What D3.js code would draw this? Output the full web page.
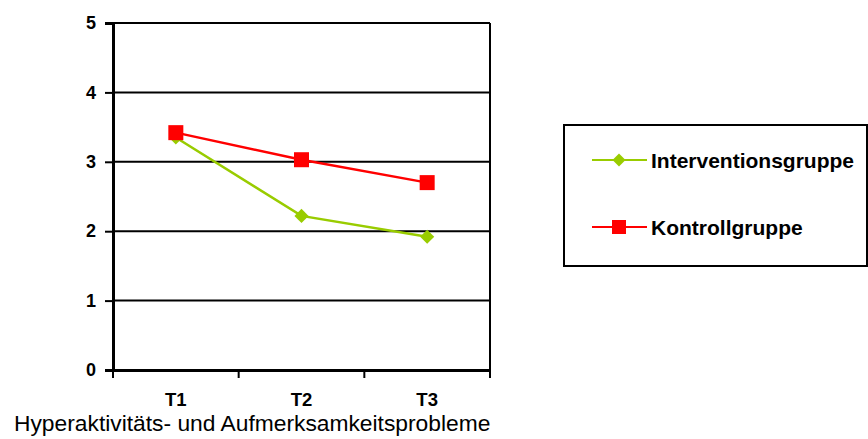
<!DOCTYPE html>
<html><head><meta charset="utf-8">
<script src="https://cdn.jsdelivr.net/npm/d3@7"></script>
<style>body{margin:0;background:#fff}svg{display:block}text{font-family:Arial,"Liberation Sans",sans-serif}</style>
</head><body>
<svg id="c" width="868" height="439"></svg>
<script>
const categories = ["T1", "T2", "T3"];
const interventionsgruppe = [3.35, 2.22, 1.92];
const kontrollgruppe = [3.42, 3.03, 2.70];
const yTicks = [0, 1, 2, 3, 4, 5];
const seriesNames = ["Interventionsgruppe", "Kontrollgruppe"];
const title = "Hyperaktivitäts- und Aufmerksamkeitsprobleme";

const svg = d3.select("#c");
const L = 113, R = 490, T = 23, B = 370;
const x = d3.scaleBand().domain(categories).range([L, R]);
const y = d3.scaleLinear().domain([0, 5]).range([B, T]);

// gridlines
svg.append("g").selectAll("line").data(yTicks.filter(d => d > 0)).join("line")
  .attr("x1", L).attr("x2", R).attr("y1", d => y(d)).attr("y2", d => y(d))
  .attr("stroke", "#000").attr("stroke-width", 2);
// right border
svg.append("line").attr("x1", R).attr("x2", R).attr("y1", T).attr("y2", B).attr("stroke", "#000").attr("stroke-width", 2);

// y axis
const ya = svg.append("g").attr("transform", `translate(${L},0)`)
  .call(d3.axisLeft(y).tickValues(yTicks).tickSize(8).tickPadding(9).tickFormat(d3.format("d")));
ya.select(".domain").attr("stroke-width", 3);
ya.selectAll(".tick line").attr("stroke-width", 2);
ya.selectAll("text").attr("font-size", 18).attr("font-weight", "bold").attr("fill", "#000")
  .attr("font-family", 'Arial,"Liberation Sans",sans-serif');

// x axis
const xa = svg.append("g").attr("transform", `translate(0,${B})`)
  .call(d3.axisBottom(x).tickSize(0).tickPadding(0).tickSizeOuter(0));
xa.select(".domain").attr("stroke-width", 3);
xa.selectAll(".tick text").attr("font-size", 18.5).attr("font-weight", "bold").attr("fill", "#000")
  .attr("dy", null).attr("y", 35.5).attr("font-family", 'Arial,"Liberation Sans",sans-serif');
// category boundary ticks
const bounds = categories.map(c => x(c)).concat([R]);
xa.append("g").selectAll("line").data(bounds).join("line")
  .attr("x1", d => d).attr("x2", d => d).attr("y1", 0).attr("y2", 8)
  .attr("stroke", "#000").attr("stroke-width", 2);

const cx = c => x(c) + x.bandwidth() / 2;
const line = d3.line().x(d => cx(d.c)).y(d => y(d.v));
const green = "#99CC00", red = "#FF0000";
const gData = categories.map((c, i) => ({c, v: interventionsgruppe[i]}));
const rData = categories.map((c, i) => ({c, v: kontrollgruppe[i]}));

svg.append("path").datum(gData).attr("d", line).attr("fill", "none").attr("stroke", green).attr("stroke-width", 2.5);
svg.append("g").selectAll("path").data(gData).join("path")
  .attr("d", d3.symbol().type(d3.symbolSquare).size(100))
  .attr("transform", d => `translate(${cx(d.c)},${y(d.v)}) rotate(45)`).attr("fill", green);

svg.append("path").datum(rData).attr("d", line).attr("fill", "none").attr("stroke", red).attr("stroke-width", 2.5);
svg.append("g").selectAll("rect").data(rData).join("rect")
  .attr("x", d => cx(d.c) - 7.5).attr("y", d => y(d.v) - 7.5).attr("width", 15).attr("height", 15).attr("fill", red);

// legend
svg.append("rect").attr("x", 564).attr("y", 125).attr("width", 303).attr("height", 141)
  .attr("fill", "none").attr("stroke", "#000").attr("stroke-width", 2);
const lg = svg.append("g");
const rows = [{n: seriesNames[0], col: green, yy: 160, sh: "d"}, {n: seriesNames[1], col: red, yy: 227, sh: "s"}];
rows.forEach(r => {
  lg.append("line").attr("x1", 592).attr("x2", 647).attr("y1", r.yy).attr("y2", r.yy).attr("stroke", r.col).attr("stroke-width", 2);
  if (r.sh === "d") {
    lg.append("path").attr("d", d3.symbol().type(d3.symbolSquare).size(85)).attr("transform", `translate(619,${r.yy}) rotate(45)`).attr("fill", r.col);
  } else {
    lg.append("rect").attr("x", 612).attr("y", r.yy - 7).attr("width", 14).attr("height", 14).attr("fill", r.col);
  }
  lg.append("text").attr("x", 651).attr("y", r.yy + 7.5).attr("font-size", 21).attr("font-weight", "bold").text(r.n);
});

svg.append("text").attr("x", 14).attr("y", 430.5).attr("font-size", 22.8).text(title);
</script>
</body></html>
